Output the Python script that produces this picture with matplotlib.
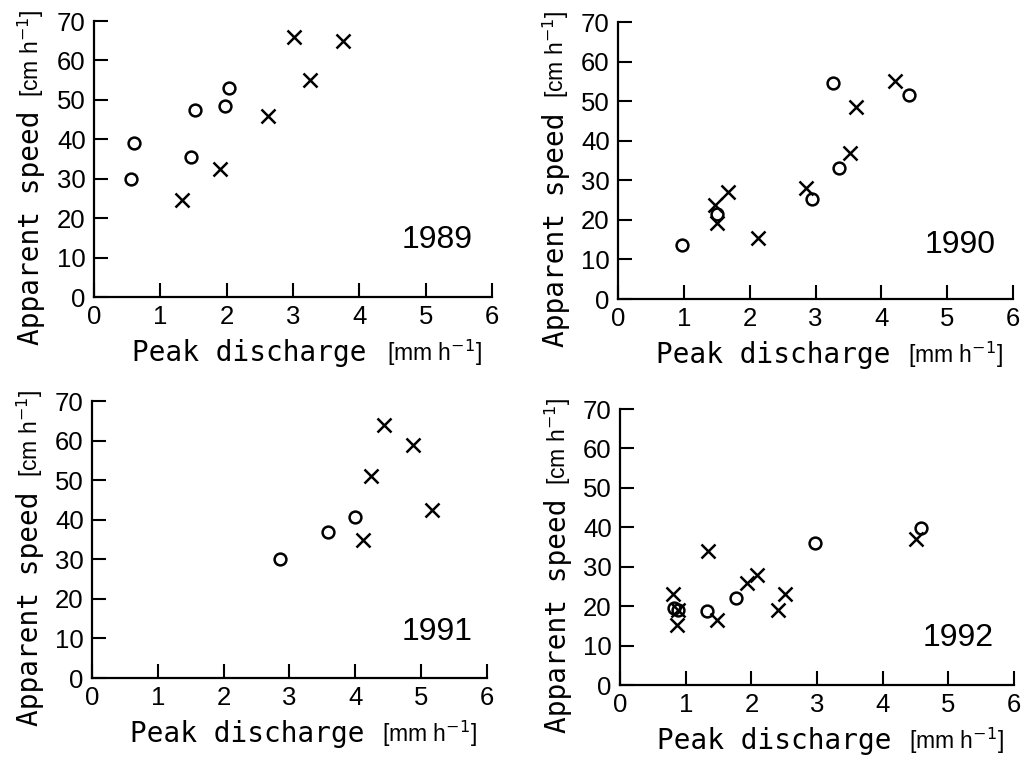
import matplotlib
matplotlib.use("Agg")
import matplotlib.pyplot as plt

# apparent speed vs peak discharge, one panel per year
years = ["1989", "1990", "1991", "1992"]

circ_x_1989 = [0.55, 0.60, 1.46, 1.52, 1.98, 2.03]
circ_y_1989 = [30, 39, 35.5, 47.5, 48.5, 53]
cross_x_1989 = [1.33, 1.90, 2.63, 3.02, 3.26, 3.75]
cross_y_1989 = [24.5, 32.5, 46, 66, 55, 65]

circ_x_1990 = [0.97, 1.50, 2.95, 3.27, 3.35, 4.42]
circ_y_1990 = [13.6, 21.5, 25.3, 54.5, 33, 51.5]
cross_x_1990 = [1.48, 1.50, 1.67, 2.12, 2.85, 3.53, 3.62, 4.20]
cross_y_1990 = [23.8, 19.1, 27, 15.5, 28, 37, 48.5, 55]

circ_x_1991 = [2.85, 3.59, 4.00]
circ_y_1991 = [30.2, 37, 40.7]
cross_x_1991 = [4.12, 4.24, 4.43, 4.87, 5.16]
cross_y_1991 = [35, 51, 64, 59, 42.5]

circ_x_1992 = [0.82, 0.88, 1.32, 1.76, 2.97, 4.59]
circ_y_1992 = [19.5, 19, 18.8, 22, 36, 39.8]
cross_x_1992 = [0.80, 0.89, 0.86, 1.34, 1.47, 1.93, 2.09, 2.40, 2.51, 4.51]
cross_y_1992 = [23, 19, 15.2, 34, 16.5, 26, 28, 19, 23, 37]

circ_x = [circ_x_1989, circ_x_1990, circ_x_1991, circ_x_1992]
circ_y = [circ_y_1989, circ_y_1990, circ_y_1991, circ_y_1992]
cross_x = [cross_x_1989, cross_x_1990, cross_x_1991, cross_x_1992]
cross_y = [cross_y_1989, cross_y_1990, cross_y_1991, cross_y_1992]

x_ticks = [0, 1, 2, 3, 4, 5, 6]
y_ticks = [0, 10, 20, 30, 40, 50, 60, 70]

sans = ["Liberation Sans", "DejaVu Sans"]
mono = ["DejaVu Sans Mono"]

# axes boxes in figure fractions
boxes = [
    [0.0913, 0.6107, 0.3864, 0.3617],
    [0.6000, 0.6081, 0.3835, 0.3630],
    [0.0893, 0.1114, 0.3835, 0.3630],
    [0.6020, 0.1022, 0.3825, 0.3617],
]
year_pos = [(5.17, 14.5), (5.19, 13.6), (5.24, 11.7), (5.15, 11.8)]

fig = plt.figure(figsize=(10.3, 7.63), dpi=100)

for i in range(4):
    ax = fig.add_axes(boxes[i])
    ax.plot(circ_x[i], circ_y[i], ls="none", marker="o", ms=8.5,
            mfc="none", mec="black", mew=1.8)
    ax.plot(cross_x[i], cross_y[i], ls="none", marker="x", ms=10,
            mec="black", mew=1.8)

    ax.set_xlim(0, 6)
    ax.set_ylim(0, 70)
    ax.set_xticks(x_ticks)
    ax.set_yticks(y_ticks)
    ax.spines["top"].set_visible(False)
    ax.spines["right"].set_visible(False)
    for s in ["left", "bottom"]:
        ax.spines[s].set_linewidth(1.6)
    ax.tick_params(direction="in", length=10, width=1.5, pad=6)
    for lab in ax.get_xticklabels() + ax.get_yticklabels():
        lab.set_family(sans)
        lab.set_fontsize(18.5)

    ax.text(year_pos[i][0], year_pos[i][1], years[i], ha="center", va="center",
            family=sans, fontsize=23)

    ax.text(0.095, -0.232, "Peak discharge", transform=ax.transAxes,
            ha="left", va="baseline", family=mono, fontsize=20)
    ax.text(0.975, -0.232, "[mm h$^{-1}$]", transform=ax.transAxes,
            ha="right", va="baseline", family=sans, fontsize=16.5)
    ax.text(-0.158, -0.175, "Apparent speed", transform=ax.transAxes,
            rotation=90, ha="center", va="bottom", family=mono, fontsize=20)
    ax.text(-0.158, 1.04, "[cm h$^{-1}$]", transform=ax.transAxes,
            rotation=90, ha="center", va="top", family=sans, fontsize=16.5)

fig.savefig("out.png", dpi=100)
